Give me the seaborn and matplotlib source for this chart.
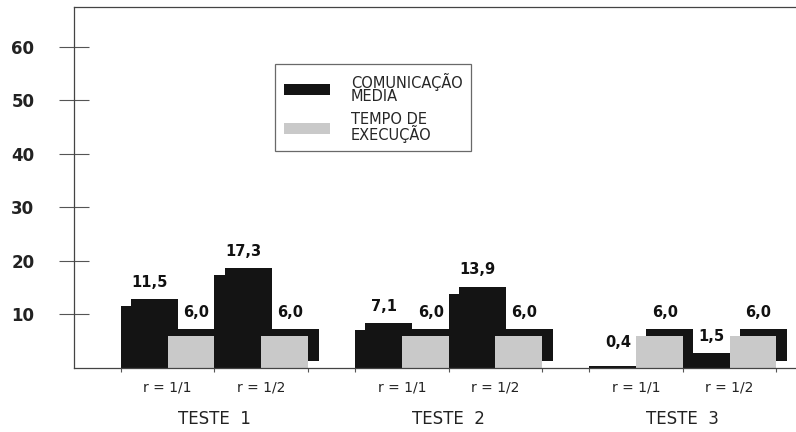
import matplotlib
matplotlib.use('Agg')
import matplotlib.pyplot as plt
import matplotlib.transforms as mtransforms
from matplotlib.patches import Patch
import seaborn as sns
import pandas as pd

# dados
testes = ['TESTE  1', 'TESTE  2', 'TESTE  3']
razoes = ['r = 1/1', 'r = 1/2']
series = ['COMUNICAÇÃO\nMEDIA', 'TEMPO DE\nEXECUÇÃO']
comunicacao = [11.5, 17.3, 7.1, 13.9, 0.4, 1.5]
tempo = [6.0, 6.0, 6.0, 6.0, 6.0, 6.0]
yticks = [10, 20, 30, 40, 50, 60]

cores = ['#141414', '#c9c9c9']

rows = []
for i, t in enumerate(testes):
    for j, r in enumerate(razoes):
        k = i * 2 + j
        for s, vals in enumerate([comunicacao, tempo]):
            # cada teste ocupa 5 larguras de barra (4 barras + intervalo)
            rows.append({'teste': t, 'r': r, 'serie': series[s],
                         'valor': vals[k], 'pos': i * 5 + j * 2 + s + 0.5})
df = pd.DataFrame(rows)

sns.set_style('white')
plt.rcParams['font.family'] = ['DejaVu Sans']

fig = plt.figure(figsize=(7.96, 4.32), dpi=100)
ax = fig.add_axes([74 / 796, 64 / 432, 1 - 74 / 796, 361 / 432])

# sombra (efeito 3D): copia preta deslocada para a direita e para cima
sns.barplot(data=df, x='pos', y='valor', native_scale=True, color='#141414',
            width=1, errorbar=None, linewidth=0, edgecolor='none', ax=ax)
offset = mtransforms.ScaledTranslation(10.5 / 100, 7 / 100, fig.dpi_scale_trans)
for p in list(ax.patches):
    if p.get_height() < 1.3:
        # barra muito baixa: a sombra ficaria solta
        p.remove()
        continue
    p.set_transform(ax.transData + offset)
    p.set_zorder(1)
n_sombra = len(ax.patches)

# barras da frente
sns.barplot(data=df, x='pos', y='valor', hue='serie', palette=cores,
            native_scale=True, dodge=False, width=1, errorbar=None,
            linewidth=0, edgecolor='none', legend=False, ax=ax)
for p in ax.patches[n_sombra:]:
    p.set_zorder(2)

# rotulos dos valores
for _, row in df.iterrows():
    ax.annotate(f"{row['valor']:.1f}".replace('.', ','), xy=(row['pos'], row['valor']),
                xytext=(4, 17), textcoords='offset points', ha='center', va='center',
                fontsize=10.5, fontweight='bold', color='#111111', zorder=3)

ax.set_xlim(-1.0, 14.42)
ax.set_ylim(0, 67.4)

# eixo y
ax.set_yticks(yticks)
ax.set_yticklabels([str(v) for v in yticks], fontsize=12, fontweight='bold', color='#222222')
ax.tick_params(axis='y', direction='inout', length=21, width=0.8, color='#555555', pad=18, left=True)

# eixo x: marcas nas divisoes entre pares
divisoes = []
for i in range(len(testes)):
    divisoes += [i * 5, i * 5 + 2, i * 5 + 4]
ax.set_xticks(divisoes)
ax.set_xticklabels([''] * len(divisoes))
ax.tick_params(axis='x', direction='out', length=3, width=0.8, color='#555555', bottom=True)
ax.set_xlabel('')
ax.set_ylabel('')

for i, t in enumerate(testes):
    for j, r in enumerate(razoes):
        ax.annotate(r, xy=(i * 5 + j * 2 + 1, 0), xycoords=('data', 'axes fraction'),
                    xytext=(0, -14), textcoords='offset points', ha='center', va='center',
                    fontsize=10, color='#222222')
    ax.annotate(t, xy=(i * 5 + 2, 0), xycoords=('data', 'axes fraction'),
                xytext=(0, -37), textcoords='offset points', ha='center', va='center',
                fontsize=12, color='#222222')

for side in ['left', 'bottom', 'top']:
    ax.spines[side].set_visible(True)
    ax.spines[side].set_color('#444444')
    ax.spines[side].set_linewidth(0.9)
ax.spines['right'].set_visible(False)

handles = [Patch(facecolor=c, edgecolor='none') for c in cores]
leg = fig.legend(handles=handles, labels=series, loc='upper left',
                 bbox_to_anchor=(275 / 796, 1 - 64 / 432), frameon=True, fancybox=False,
                 edgecolor='#444444', fontsize=10.5, handlelength=3.2, handleheight=0.75,
                 handletextpad=1.4, labelspacing=0.55, borderpad=0.6, borderaxespad=0)
leg.get_frame().set_linewidth(0.9)
for txt in leg.get_texts():
    txt.set_linespacing(0.85)

plt.savefig('out.png', dpi=100)
